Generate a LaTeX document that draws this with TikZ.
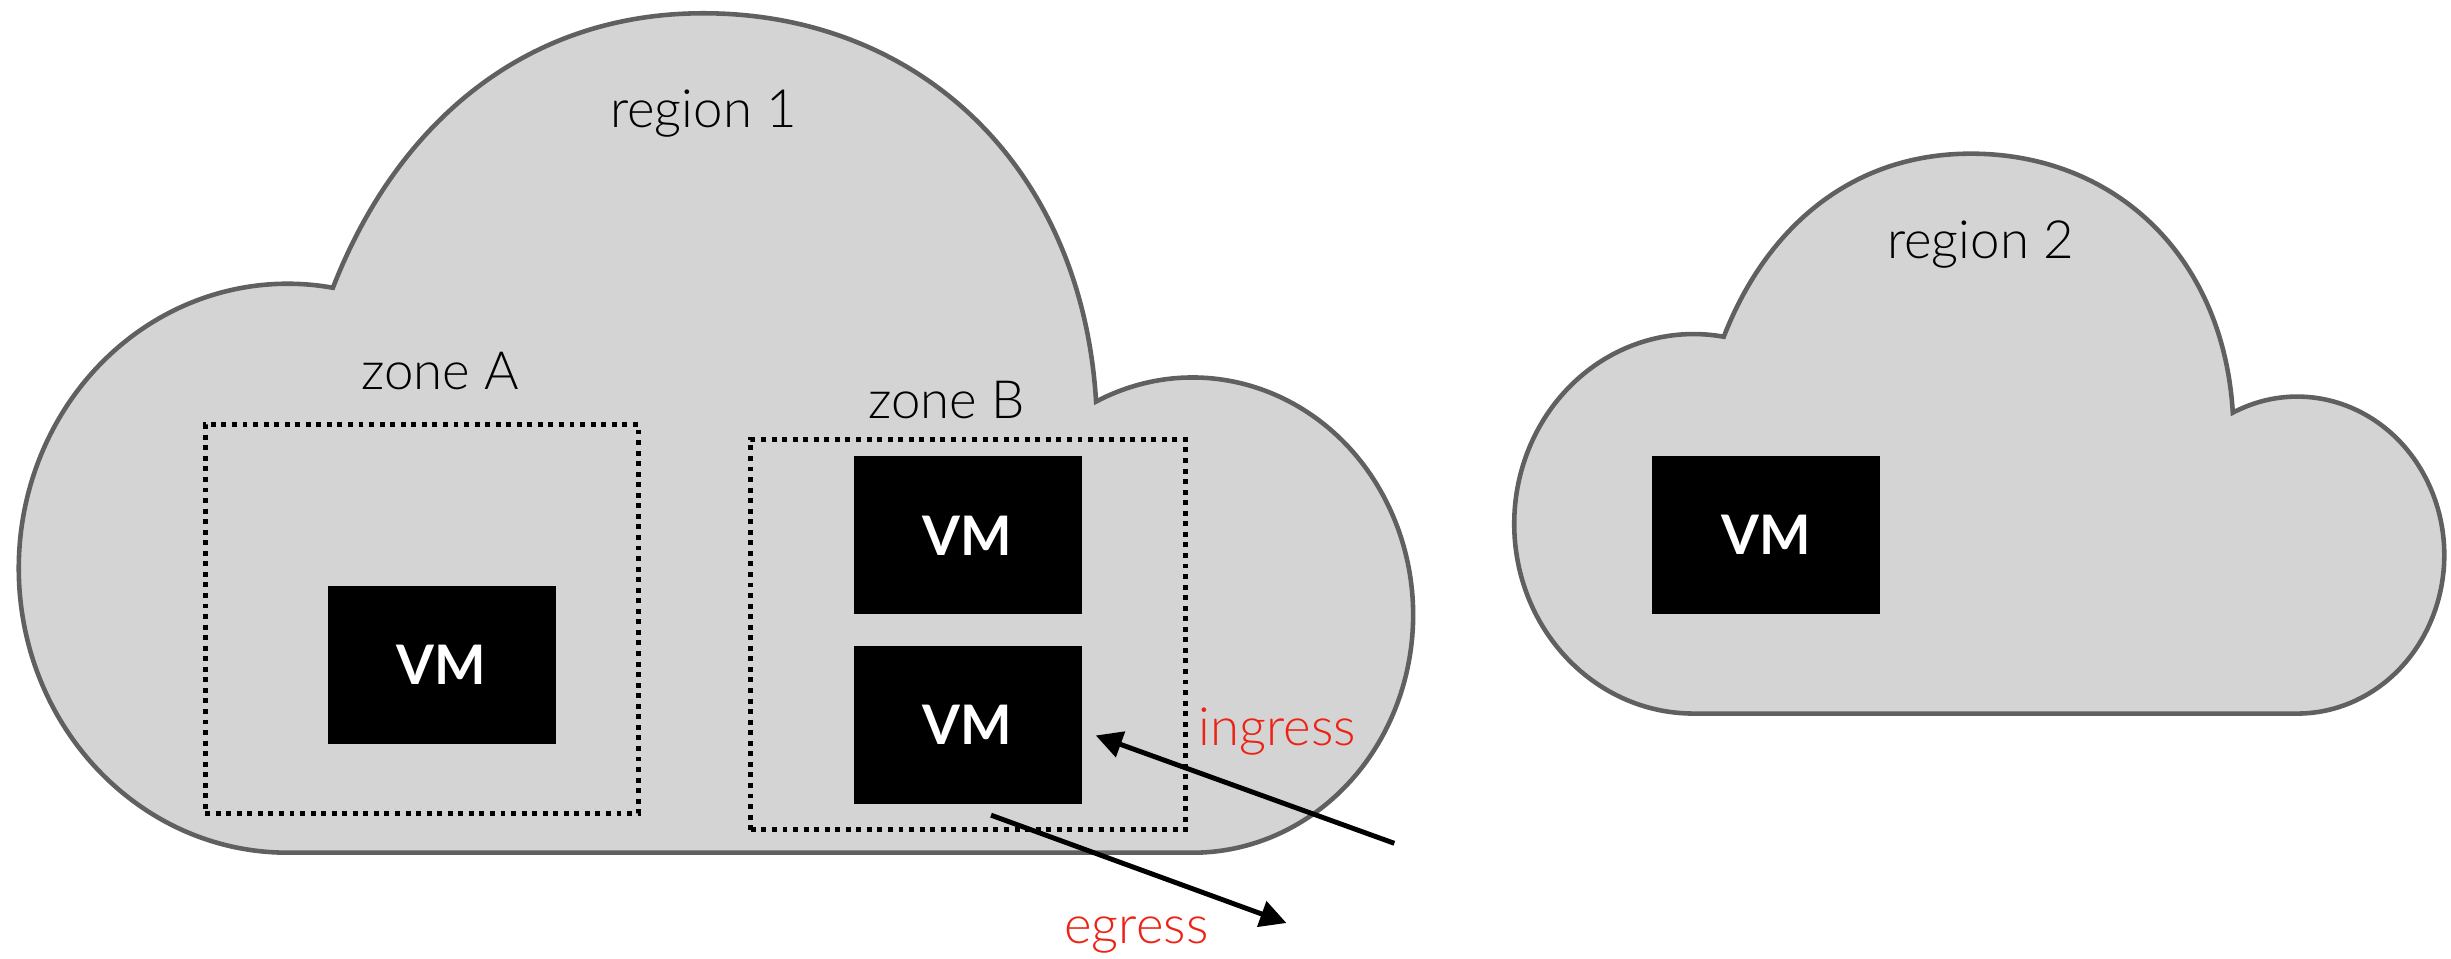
\documentclass[tikz,border=0pt]{standalone}
\usepackage{fontspec}
\setmainfont{Lato}[UprightFont=* Light, BoldFont=* Bold]
\usetikzlibrary{arrows.meta}
\usetikzlibrary{positioning}
\definecolor{cloudfill}{RGB}{212,212,212}
\definecolor{cloudline}{RGB}{96,96,96}
\definecolor{flowred}{RGB}{236,34,20}

\begin{document}
\begin{tikzpicture}[
x=0.015631cm, y=0.015631cm,
cloudshape/.style={fill=cloudfill, draw=cloudline, line width=1.3pt},
cloud/.pic={\path[cloudshape] (172,0) arc[start angle=270, end angle=80.3, x radius=172, y radius=182] .. controls (240,462) and (320,537) .. (438,537) .. controls (575,537) and (680,440) .. (689.2,288.6) arc[start angle=116, end angle=-90, x radius=141, y radius=152] -- cycle;},
zonebox/.style={rectangle, draw=black, line width=1.4pt, dash pattern=on 1.4pt off 1.6pt, inner sep=0},
vm/.style={rectangle, fill=black, text=white, font=\bfseries\fontsize{15.5}{18}\selectfont, minimum width=2.28cm, minimum height=1.58cm, inner sep=0},
tag/.style={font=\fontsize{15}{18}\selectfont, anchor=base, inner sep=0},
flow/.style={-{Triangle[length=7.5pt, width=7.5pt]}, line width=1.4pt},
]
\useasboundingbox (0,0) rectangle (1568,613.5);
\pic at (12,68) {cloud};
\pic[scale=0.667] at (968.7,157) {cloud};
\node[zonebox, minimum width=4.328cm, minimum height=3.892cm](zoneA) at (269.75,217.5){};
\node[zonebox, minimum width=4.345cm, minimum height=3.903cm](zoneB) at (619.4,207.45){};
\node[vm](vmA) at (282.5,188){VM};
\node[vm](vmB1) at (619,271){VM};
\node[vm](vmB2)[below=0.3cm of vmB1]{VM};
\node[vm](vmC) at (1130,271.5){VM};
\node[tag](region1) at (450,532){region 1};
\node[tag](region2) at (1267,448){region 2};
\node[tag](zoneAtag) at (281.6,364){zone A};
\node[tag](zoneBtag) at (605.7,346){zone B};
\node[tag, text=flowred](ingress) at (817,136.5){ingress};
\node[tag, text=flowred](egress) at (727,10){egress};
\coordinate (inTail) at (892,74);
\coordinate (inTip) at (701,143);
\coordinate (outTail) at (634,92);
\coordinate (outTip) at (823,23);
\draw[flow] (inTail) -- (inTip);
\draw[flow] (outTail) -- (outTip);
\end{tikzpicture}
\end{document}
